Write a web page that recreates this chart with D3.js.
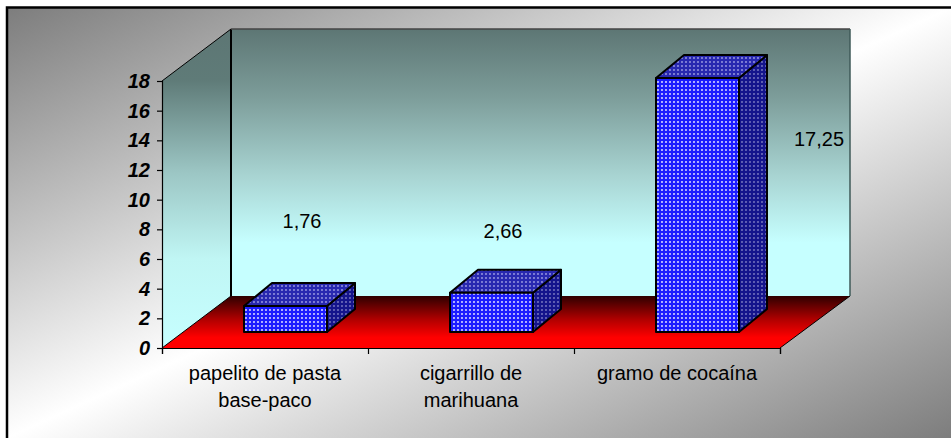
<!DOCTYPE html>
<html><head><meta charset="utf-8">
<script src="https://cdn.jsdelivr.net/npm/d3@7"></script>
<style>html,body{margin:0;padding:0;background:#fff}svg{display:block}text{font-family:"Liberation Sans",Arial,sans-serif;fill:#000}</style>
</head><body><div id="c"></div>
<script>
const categories = ["papelito de pasta|base-paco", "cigarrillo de|marihuana", "gramo de cocaína"];
const values = [1.76, 2.66, 17.25];
const valueLabels = ["1,76", "2,66", "17,25"];
const yTicks = [0, 2, 4, 6, 8, 10, 12, 14, 16, 18];

const W = 951, H = 438;
const plot = {l:162, r:780, b:348, t:81, dx:69, dy:52};
const bar = {w:83, dx:28, dy:23, base:332};
const labelNudge = [[37,-100],[32,-77],[142,48]];

const svg = d3.select("#c").append("svg").attr("width",W).attr("height",H);
const defs = svg.append("defs");
function linear(id, stops, x2, y2){
  const g = defs.append("linearGradient").attr("id",id).attr("x1",0).attr("y1",0).attr("x2",x2).attr("y2",y2);
  stops.forEach(s=>g.append("stop").attr("offset",s[0]).attr("stop-color",s[1]));
}
linear("bg",[[0,"#7d7d7d"],[0.5,"#ffffff"],[1,"#7d7d7d"]],1,1);
linear("wall",[[0,"#5d7674"],[0.25,"#7c9c99"],[0.55,"#a8d4d2"],[0.8,"#c6ffff"],[1,"#c6ffff"]],0,1);
linear("leftwall",[[0,"#5d7674"],[0.16,"#5f7b78"],[0.45,"#9cc6c4"],[0.72,"#c0f6f4"],[1,"#c6ffff"]],0,1);
linear("floor",[[0,"#2e0000"],[0.45,"#b00000"],[0.8,"#ff0000"],[1,"#ff0000"]],0,1);
function dots(id, base, dot){
  const p = defs.append("pattern").attr("id",id).attr("patternUnits","userSpaceOnUse").attr("width",4).attr("height",4);
  p.append("rect").attr("width",4).attr("height",4).attr("fill",base);
  p.append("circle").attr("cx",2).attr("cy",2).attr("r",1.05).attr("fill",dot);
}
dots("front","#1c1cff","#d4d4ff");
dots("top","#2828b0","#9090dc");
dots("side","#14148c","#7070bc");

svg.append("rect").attr("x",7).attr("y",8).attr("width",W-7).attr("height",H-8).attr("fill","url(#bg)");
svg.append("path").attr("d",`M7,${H}V7.5H${W}`).attr("fill","none").attr("stroke","#000").attr("stroke-width",2.5);

const x = d3.scaleBand().domain(categories).range([plot.l,plot.r]);
const y = d3.scaleLinear().domain([0,18]).range([plot.b,plot.t]);
const yBar = d3.scaleLinear().domain([0,18]).range([bar.base,bar.base-265]);
const xEdges = d3.scaleLinear().domain([0,3]).range([plot.l,plot.r]);
const pts = a=>a.map(p=>p.join(",")).join(" ");

const {l,r,b,t,dx,dy} = plot;
const backL=l+dx, backR=r+70, bb=b-dy, bt=t-dy;
svg.append("polygon").attr("points",pts([[backL,bt],[backR,bt],[backR,bb],[backL,bb]])).attr("fill","url(#wall)");
svg.append("polygon").attr("points",pts([[l,t],[backL,bt],[backL,bb],[l,b]])).attr("fill","url(#leftwall)");
svg.append("polygon").attr("points",pts([[l,b],[backL,bb],[backR,bb],[r,b]])).attr("fill","url(#floor)");

svg.append("path").attr("d",`M${l},${t}L${backL},${bt}`).attr("stroke","#000").attr("fill","none");
svg.append("path").attr("d",`M${l},${b}L${backL},${bb}`).attr("stroke","#000").attr("fill","none");
svg.append("path").attr("d",`M${r},${b}L${backR},${bb}`).attr("stroke","#000").attr("fill","none");
svg.append("path").attr("d",`M${backL},${bt}V${bb}`).attr("stroke","#000").attr("stroke-width",2).attr("fill","none");
svg.append("path").attr("d",`M${backL},${bt}H${backR}`).attr("stroke","#444").attr("stroke-width",1.5).attr("fill","none");
svg.append("path").attr("d",`M${backR},${bt}V${bb}`).attr("stroke","#3f5a58").attr("stroke-width",1.5).attr("fill","none");

const barG = svg.append("g");
values.forEach((v,i)=>{
  const c = categories[i];
  const x0 = x(c)+x.bandwidth()/2+20.5-bar.w/2, x1 = x0+bar.w;
  const yb = yBar(0), yt = yBar(v);
  const g = barG.append("g").attr("stroke","#000").attr("stroke-width",2).attr("stroke-linejoin","round");
  g.append("polygon").attr("points",pts([[x1,yt],[x1+bar.dx,yt-bar.dy],[x1+bar.dx,yb-bar.dy],[x1,yb]])).attr("fill","url(#side)");
  g.append("polygon").attr("points",pts([[x0,yt],[x0+bar.dx,yt-bar.dy],[x1+bar.dx,yt-bar.dy],[x1,yt]])).attr("fill","url(#top)");
  g.append("rect").attr("x",x0).attr("y",yt).attr("width",bar.w).attr("height",yb-yt).attr("fill","url(#front)");
});

const yAxis = svg.append("g").attr("transform",`translate(${l},0)`)
  .call(d3.axisLeft(y).tickValues(yTicks).tickSize(5).tickPadding(7));
yAxis.selectAll("path,line").attr("stroke","#000").attr("stroke-width",1.2);
yAxis.selectAll("text").attr("font-size",20).attr("font-weight","bold").attr("font-style","italic").style("font-family",'"Liberation Sans",Arial,sans-serif');

const edge = svg.append("g").attr("transform",`translate(0,${b})`)
  .call(d3.axisBottom(xEdges).ticks(3).tickSize(6).tickFormat(""));
edge.selectAll("path,line").attr("stroke","#000").attr("stroke-width",1.2);

const xAxis = svg.append("g").attr("transform",`translate(0,${b})`)
  .call(d3.axisBottom(x).tickSize(0).tickFormat(""));
xAxis.select("path").remove();
xAxis.selectAll(".tick").each(function(c){
  const txt = d3.select(this).append("text").attr("text-anchor","middle").attr("font-size",20);
  c.split("|").forEach((s,k)=>txt.append("tspan").attr("x",0).attr("y",32+k*27).text(s));
});

svg.append("g").selectAll("text").data(values).join("text")
  .attr("text-anchor","middle").attr("font-size",20)
  .attr("x",(d,i)=>x(categories[i])+x.bandwidth()/2+labelNudge[i][0])
  .attr("y",(d,i)=>y(d)+labelNudge[i][1]+6)
  .text((d,i)=>valueLabels[i]);
</script></body></html>
